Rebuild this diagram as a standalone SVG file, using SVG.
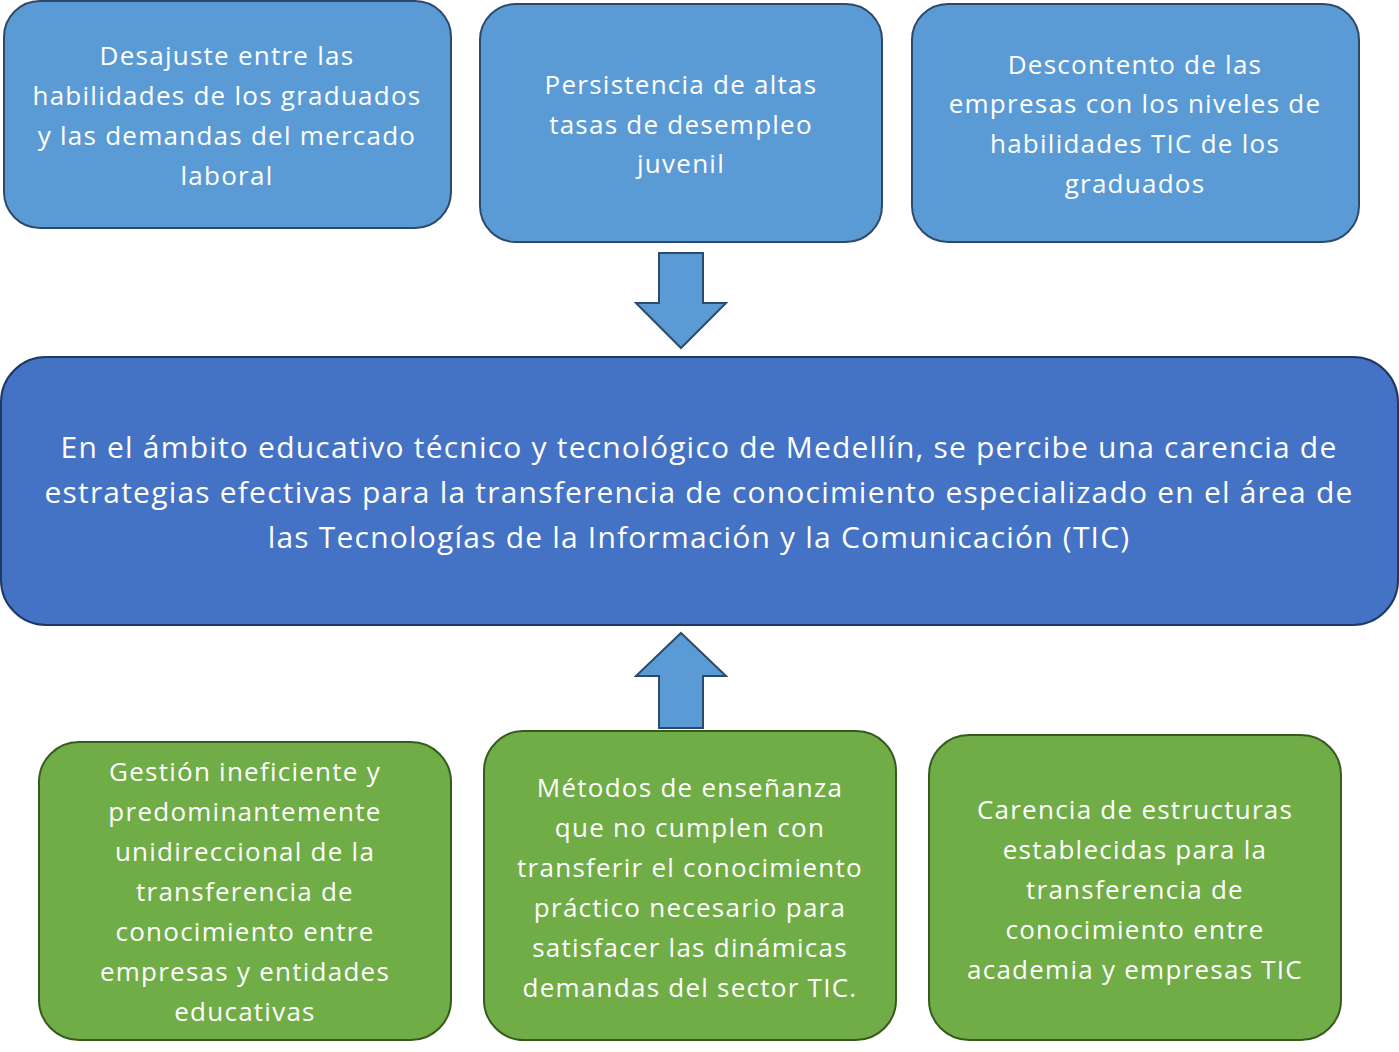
<svg xmlns="http://www.w3.org/2000/svg" width="1399" height="1052" viewBox="0 0 1399 1052">
<style>
.b{fill:#5B9BD5;stroke:#2E4A6B;stroke-width:2}
.m{fill:#4472C4;stroke:#1F3864;stroke-width:2}
.g{fill:#70AD47;stroke:#375A1E;stroke-width:2}
.t{font-family:"Open Sans","Noto Sans",sans-serif;font-size:26px;letter-spacing:1.25px;fill:#fff;text-anchor:middle}
.tm{font-size:30px;letter-spacing:1.2px}
</style>
<rect width="1399" height="1052" fill="#fff"/>
<g id="n1"><rect class="b" x="4" y="1" width="447" height="227" rx="36"/>
<text class="t"><tspan x="227" y="65">Desajuste entre las</tspan><tspan x="227" y="105">habilidades de los graduados</tspan><tspan x="227" y="145">y las demandas del mercado</tspan><tspan x="227" y="185">laboral</tspan></text></g>
<g id="n2"><rect class="b" x="480" y="4" width="402" height="238" rx="36"/>
<text class="t"><tspan x="681" y="94">Persistencia de altas</tspan><tspan x="681" y="134">tasas de desempleo</tspan><tspan x="681" y="173">juvenil</tspan></text></g>
<g id="n3"><rect class="b" x="912" y="4" width="447" height="238" rx="36"/>
<text class="t"><tspan x="1135" y="74">Descontento de las</tspan><tspan x="1135" y="113">empresas con los niveles de</tspan><tspan x="1135" y="153">habilidades TIC de los</tspan><tspan x="1135" y="193">graduados</tspan></text></g>
<g id="main"><rect class="m" x="1" y="357" width="1397" height="268" rx="45"/>
<text class="t tm"><tspan x="699" y="458">En el ámbito educativo técnico y tecnológico de Medellín, se percibe una carencia de</tspan><tspan x="699" y="503">estrategias efectivas para la transferencia de conocimiento especializado en el área de</tspan><tspan x="699" y="548">las Tecnologías de la Información y la Comunicación (TIC)</tspan></text></g>
<g id="n4"><rect class="g" x="39" y="742" width="412" height="298" rx="40"/>
<text class="t"><tspan x="245" y="781">Gestión ineficiente y</tspan><tspan x="245" y="821">predominantemente</tspan><tspan x="245" y="861">unidireccional de la</tspan><tspan x="245" y="901">transferencia de</tspan><tspan x="245" y="941">conocimiento entre</tspan><tspan x="245" y="981">empresas y entidades</tspan><tspan x="245" y="1021">educativas</tspan></text></g>
<g id="n5"><rect class="g" x="484" y="731" width="412" height="309" rx="40"/>
<text class="t"><tspan x="690" y="797">Métodos de enseñanza</tspan><tspan x="690" y="837">que no cumplen con</tspan><tspan x="690" y="877">transferir el conocimiento</tspan><tspan x="690" y="917">práctico necesario para</tspan><tspan x="690" y="957">satisfacer las dinámicas</tspan><tspan x="690" y="997">demandas del sector TIC.</tspan></text></g>
<g id="n6"><rect class="g" x="929" y="735" width="412" height="305" rx="40"/>
<text class="t"><tspan x="1135" y="819">Carencia de estructuras</tspan><tspan x="1135" y="859">establecidas para la</tspan><tspan x="1135" y="899">transferencia de</tspan><tspan x="1135" y="939">conocimiento entre</tspan><tspan x="1135" y="979">academia y empresas TIC</tspan></text></g>
<g id="connectors">
<polygon class="b" points="659,253 703,253 703,303 726,303 681,348 636,303 659,303"/>
<polygon class="b" points="681,633 726,676 703,676 703,728 659,728 659,676 636,676"/>
</g>
</svg>
